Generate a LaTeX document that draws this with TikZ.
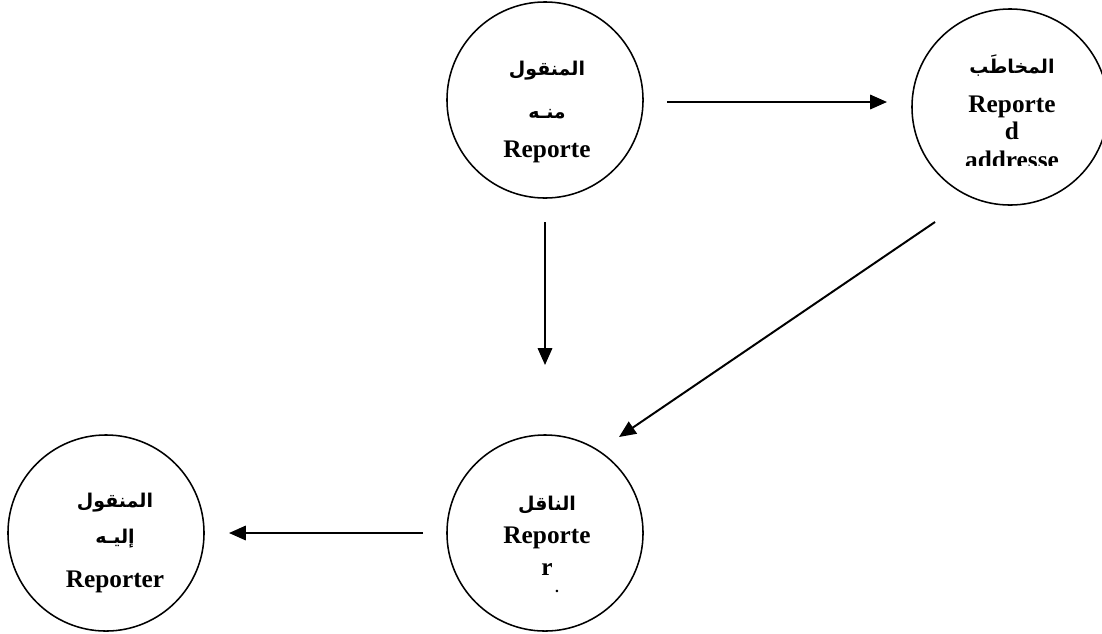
\documentclass[tikz,border=0pt]{standalone}
\usepackage{fontspec}
\setmainfont{Liberation Serif}
\newfontfamily\arabicfont[Script=Arabic]{DejaVu Sans}
\TeXXeTstate=1
\usetikzlibrary{arrows.meta}

\begin{document}
\begin{tikzpicture}[x=0.025cm,y=-0.025cm,
    role/.style={circle,draw,line width=1.1pt,minimum size=4.9cm,inner sep=0pt},
    lat/.style={anchor=base,inner sep=0pt,font=\bfseries\fontsize{18}{20}\selectfont},
    arb/.style={anchor=base,inner sep=0pt,font=\arabicfont\bfseries\fontsize{13.5}{15}\selectfont},
    link/.style={line width=1.4pt,-{Triangle[length=0.42cm,width=0.36cm]}}]
            \useasboundingbox (0,0) rectangle (1102,633);
            \node[role] (src) at (545,100) {};
            \node[role] (adr) at (1010,107) {};
            \node[role] (rep) at (545,533) {};
            \node[role] (dst) at (106,533) {};
            \node[arb] (srcA) at (547,75) {\beginR المنقول\endR};
            \node[arb] (srcB) at (547,118) {\beginR منـه\endR};
            \node[lat] (srcC) at (547,157) {Reporte};
            \node[arb] (adrA) at (1012,73) {\beginR المخاطَب\endR};
            \node[lat] (adrB) at (1012,112) {Reporte};
            \node[lat] (adrC) at (1012,139) {d};
            \begin{scope}
                \clip (900,140) rectangle (1102,165);
                \node[lat] (adrD) at (1012,168) {addresse};
            \end{scope}
            \node[arb] (repA) at (547,510) {\beginR الناقل\endR};
            \node[lat] (repB) at (547,543) {Reporte};
            \node[lat] (repC) at (547,575) {r};
            \node[lat,font=\bfseries\fontsize{11}{12}\selectfont] (repD) at (557,592) {.};
            \node[arb] (dstA) at (115,507) {\beginR المنقول\endR};
            \node[arb] (dstB) at (115,543) {\beginR إليـه\endR};
            \node[lat] (dstC) at (115,587) {Reporter};
            \coordinate (e1) at (667,102);
            \coordinate (e2) at (887,102);
            \coordinate (e3) at (545,222);
            \coordinate (e4) at (545,365);
            \coordinate (e5) at (935,222);
            \coordinate (e6) at (619,437);
            \coordinate (e7) at (423,533);
            \coordinate (e8) at (229,533);
            \draw[link] (e1) -- (e2);
            \draw[link] (e3) -- (e4);
            \draw[link] (e5) -- (e6);
            \draw[link] (e7) -- (e8);
        \end{tikzpicture}
\end{document}
